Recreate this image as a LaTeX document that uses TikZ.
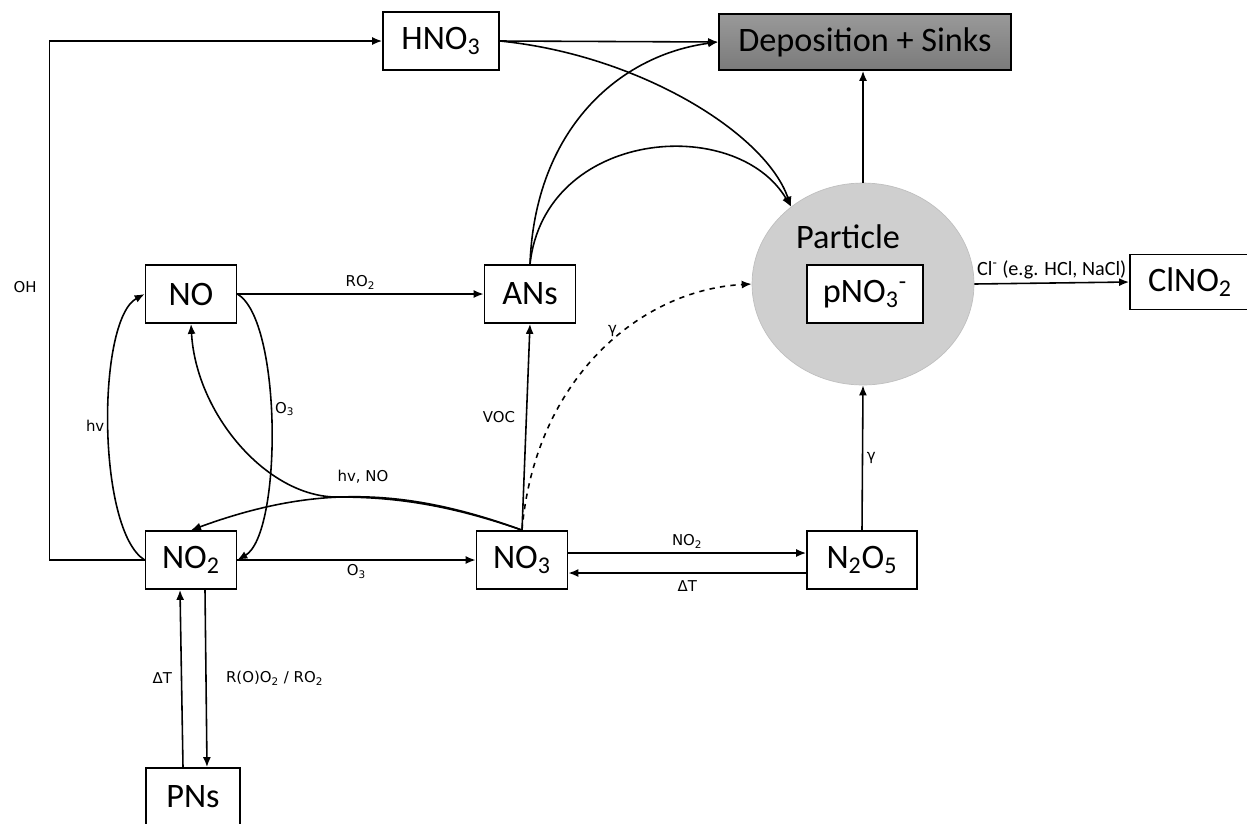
\documentclass[tikz,border=0pt]{standalone}
\usepackage{fontspec}
\setmainfont{Carlito}
\newfontfamily\labelfont{DejaVu Sans}
\usetikzlibrary{shapes.geometric, arrows.meta, positioning, calc}

\begin{document}
\begin{tikzpicture}[x=0.02cm, y=-0.02cm, >={Latex[length=2mm,width=1.6mm]},
    species/.style={draw, line width=1pt, fill=white, minimum width=1.82cm, minimum height=1.16cm, inner sep=0pt, font=\fontsize{19.5}{23}\selectfont},
    rxn/.style={font=\labelfont\fontsize{8.5}{10}\selectfont, inner sep=2pt},
    flow/.style={->, line width=0.9pt}]
    \useasboundingbox (0,0) rectangle (1247,823);
    \clip (0,0) rectangle (1247,823);

    % sinks and particle phase
    \node[species, minimum width=2.32cm] (hno3) at (441,41) {HNO\textsubscript{3}};
    \node[species, top color=black!40, bottom color=black!52, minimum width=5.84cm, minimum height=1.12cm] (dep) at (865,42) {Deposition + Sinks};
    \node[ellipse, draw=black!25, fill=black!19, minimum width=4.44cm, minimum height=4.04cm] (part) at (863,284) {};
    \node[font=\fontsize{19.5}{23}\selectfont] (ptxt) at (848,237) {Particle};
    \node[species, minimum width=2.32cm] (pno3) at (865,294) {pNO\textsubscript{3}\textsuperscript{-}};
    \node[species, minimum width=2.4cm, minimum height=1.1cm] (clno2) at (1190,282) {ClNO\textsubscript{2}};

    % gas phase species
    \node[species] (no) at (191,294) {NO};
    \node[species] (ans) at (530,294) {ANs};
    \node[species] (no2) at (191,560) {NO\textsubscript{2}};
    \node[species] (no3) at (522,560) {NO\textsubscript{3}};
    \node[species, minimum width=2.2cm] (n2o5) at (862,560) {N\textsubscript{2}O\textsubscript{5}};
    \node[species, minimum width=1.88cm] (pns) at (193,797) {PNs};

    % HNO3 branch
    \draw[flow] (no2.west) -- ++(-95,0) |- (hno3.west);
    \node[rxn] (oh) at (25,287) {OH};
    \draw[flow] (hno3.east) -- (dep.west);
    \draw[flow] (hno3.east) .. controls +(140,14) and +(-25,-73) .. (part.133);
    \draw[flow] (ans.north) .. controls +(5,-135) and +(-99,13) .. (dep.west);
    \draw[flow] (ans.north) .. controls +(15,-135) and +(-55,-93) .. (part.133);
    \draw[flow] (part.north) -- (part.north |- dep.south);

    % NOx cycle
    \draw[flow] (no.east) -- node[rxn, above] {RO\textsubscript{2}} (ans.west);
    \draw[flow] (no.east) .. controls +(45,26) and +(45,-26) .. node[rxn, right, pos=0.45] {O\textsubscript{3}} (no2.east);
    \draw[flow] (no2.west) .. controls +(-48,-30) and +(-48,26) .. node[rxn, left] {hv} (no.west);
    \draw[flow] (no2.east) -- node[rxn, below] {O\textsubscript{3}} (no3.west);
    \coordinate (split) at (337,497);
    \draw[flow] (no3.north) .. controls +(-80,-28) and +(50,0) .. (split)
        .. controls +(-70,0) and +(5,90) .. (no.south);
    \node[rxn] (hvno) at (363,477) {hv, NO};
    \draw[flow] (no3.north) .. controls +(-120,-44) and +(120,-44) .. (no2.north);
    \draw[flow] (no3.north) -- node[rxn, left=4pt, pos=0.55] {VOC} (ans.south);
    \draw[flow, dashed] (no3.north) .. controls +(13,-151) and +(-112,6) .. node[rxn, above, pos=0.55] {γ} (part.west);

    % N2O5 and particle uptake
    \draw[flow] ($(no3.east)+(0,-7)$) -- node[rxn, above] {NO\textsubscript{2}} ($(n2o5.west)+(0,-7)$);
    \draw[flow] ($(n2o5.west)+(0,13)$) -- node[rxn, below=2pt] {ΔT} ($(no3.east)+(0,13)$);
    \draw[flow] (n2o5.north) -- node[rxn, right=0pt] {γ} (part.south);
    \draw[flow] (part.east) -- node[above, inner sep=2pt, font=\fontsize{11.5}{13}\selectfont] {Cl\textsuperscript{-} (e.g. HCl, NaCl)} (clno2.west);

    % PNs
    \draw[flow] ($(no2.south)+(14,0)$) -- node[rxn, right=9pt] {R(O)O\textsubscript{2} / RO\textsubscript{2}} ($(pns.north)+(14,0)$);
    \draw[flow] ($(pns.north)+(-10,0)$) -- node[rxn, left=3pt] {ΔT} ($(no2.south)+(-11,0)$);
\end{tikzpicture}
\end{document}
